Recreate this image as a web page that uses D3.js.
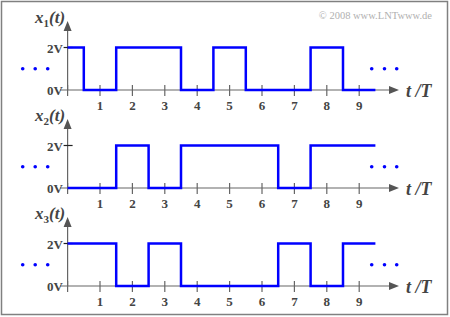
<!DOCTYPE html>
<html>
<head>
<meta charset="utf-8">
<script src="https://cdn.jsdelivr.net/npm/d3@7"></script>
<style>
  html, body { margin: 0; padding: 0; background: #fff; }
  svg { display: block; }
</style>
</head>
<body>
<div id="chart"></div>
<script>
// bit value per symbol interval [k-0.5, k+0.5], k = 0..9
const signalNames = ['1', '2', '3'];
const x1Bits = [1, 0, 1, 1, 0, 1, 0, 0, 1, 0];
const x2Bits = [0, 0, 1, 0, 1, 1, 1, 0, 1, 1];
const x3Bits = [1, 1, 0, 1, 0, 0, 0, 1, 0, 1];
const tickValues = [0, 1, 2, 3, 4, 5, 6, 7, 8, 9];
const tickLabels = ['', '1', '2', '3', '4', '5', '6', '7', '8', '9'];
const levelLabels = ['0V', '2V'];

const width = 450, height = 317;
const baselines = [90, 188, 286];
const signals = [x1Bits, x2Bits, x3Bits];

const svg = d3.select('#chart')
  .append('svg')
  .attr('width', width)
  .attr('height', height);

// frame
svg.append('rect')
  .attr('x', 1.5).attr('y', 1.5)
  .attr('width', 446).attr('height', 313)
  .attr('fill', '#fff')
  .attr('stroke', '#808080')
  .attr('stroke-width', 1.5);

svg.append('text')
  .attr('x', 432).attr('y', 19)
  .attr('text-anchor', 'end')
  .attr('font-family', 'Liberation Serif, serif')
  .attr('font-size', 10.5)
  .attr('fill', '#b0b0b0')
  .text('\u00A9 2008 www.LNTwww.de');

const x = d3.scaleLinear().domain([0, 9.5]).range([67.6, 67.6 + 9.5 * 32.4]);

const axisColor = '#666';
const textColor = '#444';
const serif = 'Liberation Serif, Times New Roman, serif';

signals.forEach((bits, i) => {
  const base = baselines[i];
  const y = d3.scaleLinear().domain([0, 2]).range([base, base - 42.5]);
  const g = svg.append('g');

  // x axis with arrow
  g.append('line')
    .attr('x1', 60).attr('x2', 392)
    .attr('y1', base).attr('y2', base)
    .attr('stroke', axisColor).attr('stroke-width', 1.2);
  g.append('path')
    .attr('d', `M399,${base} L389,${base - 4} L389,${base + 4} Z`)
    .attr('fill', '#555');

  // y axis with arrow
  g.append('line')
    .attr('x1', x(0)).attr('x2', x(0))
    .attr('y1', base).attr('y2', base - 62)
    .attr('stroke', axisColor).attr('stroke-width', 1.2);
  g.append('path')
    .attr('d', `M${x(0)},${base - 69} L${x(0) - 4},${base - 59} L${x(0) + 4},${base - 59} Z`)
    .attr('fill', '#555');

  // ticks on the time axis
  g.selectAll('.tick')
    .data(tickValues)
    .join('line')
    .attr('x1', d => x(d)).attr('x2', d => x(d))
    .attr('y1', base - 5).attr('y2', base + 6)
    .attr('stroke', axisColor).attr('stroke-width', 1.2);

  g.selectAll('.ticklabel')
    .data(tickValues)
    .join('text')
    .attr('x', d => x(d))
    .attr('y', base + 20)
    .attr('text-anchor', 'middle')
    .attr('font-family', serif)
    .attr('font-weight', 'bold')
    .attr('font-size', 13)
    .attr('fill', textColor)
    .text((d, k) => tickLabels[k]);

  // 2V tick on the y axis
  g.append('line')
    .attr('x1', x(0) - 4).attr('x2', x(0) + 5)
    .attr('y1', y(2)).attr('y2', y(2))
    .attr('stroke', '#222').attr('stroke-width', 1.2);

  g.selectAll('.level')
    .data([0, 2])
    .join('text')
    .attr('x', 63)
    .attr('y', d => y(d) + 5)
    .attr('text-anchor', 'end')
    .attr('font-family', serif)
    .attr('font-weight', 'bold')
    .attr('font-size', 13)
    .attr('fill', textColor)
    .text((d, k) => levelLabels[k]);

  // signal as step function
  const pts = [[0, bits[0] * 2]];
  for (let k = 1; k < bits.length; k++) pts.push([k - 0.5, bits[k] * 2]);
  pts.push([9.5, bits[bits.length - 1] * 2]);

  g.append('path')
    .datum(pts)
    .attr('d', d3.line().x(d => x(d[0])).y(d => y(d[1])).curve(d3.curveStepAfter))
    .attr('fill', 'none')
    .attr('stroke', '#0000ff')
    .attr('stroke-width', 2.5);

  // continuation dots
  const mid = (y(0) + y(2)) / 2;
  g.selectAll('.dot')
    .data([22.7, 35.2, 47.7, 371.7, 384.5, 396.7])
    .join('circle')
    .attr('cx', d => d).attr('cy', mid)
    .attr('r', 1.8)
    .attr('fill', '#0000ff');

  // y label
  const lab = g.append('text')
    .attr('x', 35).attr('y', base - 67)
    .attr('font-family', serif)
    .attr('font-style', 'italic')
    .attr('font-weight', 'bold')
    .attr('font-size', 17)
    .attr('fill', textColor);
  lab.append('tspan').text('x');
  lab.append('tspan').attr('font-size', 11).attr('dy', 4).attr('font-style', 'normal').text(signalNames[i]);
  lab.append('tspan').attr('dy', -4).text('(t)');

  // t/T label
  g.append('text')
    .attr('x', 406).attr('y', base + 7)
    .attr('font-family', serif)
    .attr('font-style', 'italic')
    .attr('font-weight', 'bold')
    .attr('font-size', 18)
    .attr('fill', textColor)
    .text('t /T');
});
</script>
</body>
</html>
